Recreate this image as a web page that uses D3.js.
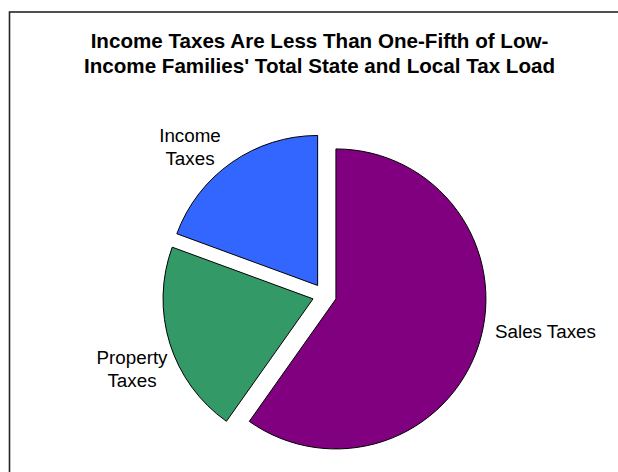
<!DOCTYPE html>
<html>
<head>
<meta charset="utf-8">
<script src="https://cdn.jsdelivr.net/npm/d3@7/dist/d3.min.js"></script>
<style>
  html, body { margin: 0; padding: 0; background: #ffffff; }
  svg { display: block; }
</style>
</head>
<body>
<svg id="chart" width="618" height="472"></svg>
<script>
// ---- data ----
const categories = ["Sales Taxes", "Property Taxes", "Income Taxes"];
const values = [59.8, 20.8, 19.4];
const labelLines = [["Sales Taxes"], ["Property", "Taxes"], ["Income", "Taxes"]];
const colors = ["#800080", "#339966", "#3366FF"];
const titleLines = [
  "Income Taxes Are Less Than One-Fifth of Low-",
  "Income Families' Total State and Local Tax Load"
];

// ---- layout ----
const W = 618, H = 472;
const cx = 324.5, cy = 295.3, radius = 150, explode = 12;
const font = "Arial, 'Liberation Sans', Helvetica, sans-serif";
// label placement relative to pie centre: [dx, dy of first baseline, anchor]
const labelLayout = [
  { dx: 170.5, dy: 42.4, anchor: "start" },
  { dx: -192.5, dy: 68.7, anchor: "middle" },
  { dx: -134.5, dy: -153.6, anchor: "middle" }
];
const lineGap = 22.8;

const svg = d3.select("#chart");

// chart frame (extends past the right and bottom edges)
svg.append("rect")
  .attr("x", 9.5).attr("y", 12)
  .attr("width", 700).attr("height", 600)
  .attr("fill", "none")
  .attr("stroke", "#262626")
  .attr("stroke-width", 1.6);

// title
const title = svg.append("text")
  .attr("font-family", font)
  .attr("font-weight", "bold")
  .attr("font-size", 20.6)
  .attr("fill", "#000")
  .attr("text-anchor", "middle");
titleLines.forEach((t, i) => {
  title.append("tspan").attr("x", 319.5).attr("y", 47.7 + i * 25.6).text(t);
});

// pie
const pie = d3.pie().sort(null).value(d => d.value);
const arcs = pie(categories.map((c, i) => ({ name: c, value: values[i], i })));
const arc = d3.arc().innerRadius(0).outerRadius(radius);

const g = svg.append("g").attr("transform", `translate(${cx},${cy})`);

g.selectAll("path.slice")
  .data(arcs)
  .join("path")
  .attr("class", "slice")
  .attr("transform", d => {
    const a = (d.startAngle + d.endAngle) / 2;
    return `translate(${Math.sin(a) * explode},${-Math.cos(a) * explode})`;
  })
  .attr("d", arc)
  .attr("fill", (d, i) => colors[i])
  .attr("stroke", "#000")
  .attr("stroke-width", 1)
  .attr("stroke-linejoin", "miter");

// labels
arcs.forEach((d, i) => {
  const L = labelLayout[i];
  const t = g.append("text")
    .attr("font-family", font)
    .attr("font-size", 18.8)
    .attr("fill", "#000")
    .attr("text-anchor", L.anchor);
  labelLines[i].forEach((line, j) => {
    t.append("tspan").attr("x", L.dx).attr("y", L.dy + j * lineGap).text(line);
  });
});
</script>
</body>
</html>
